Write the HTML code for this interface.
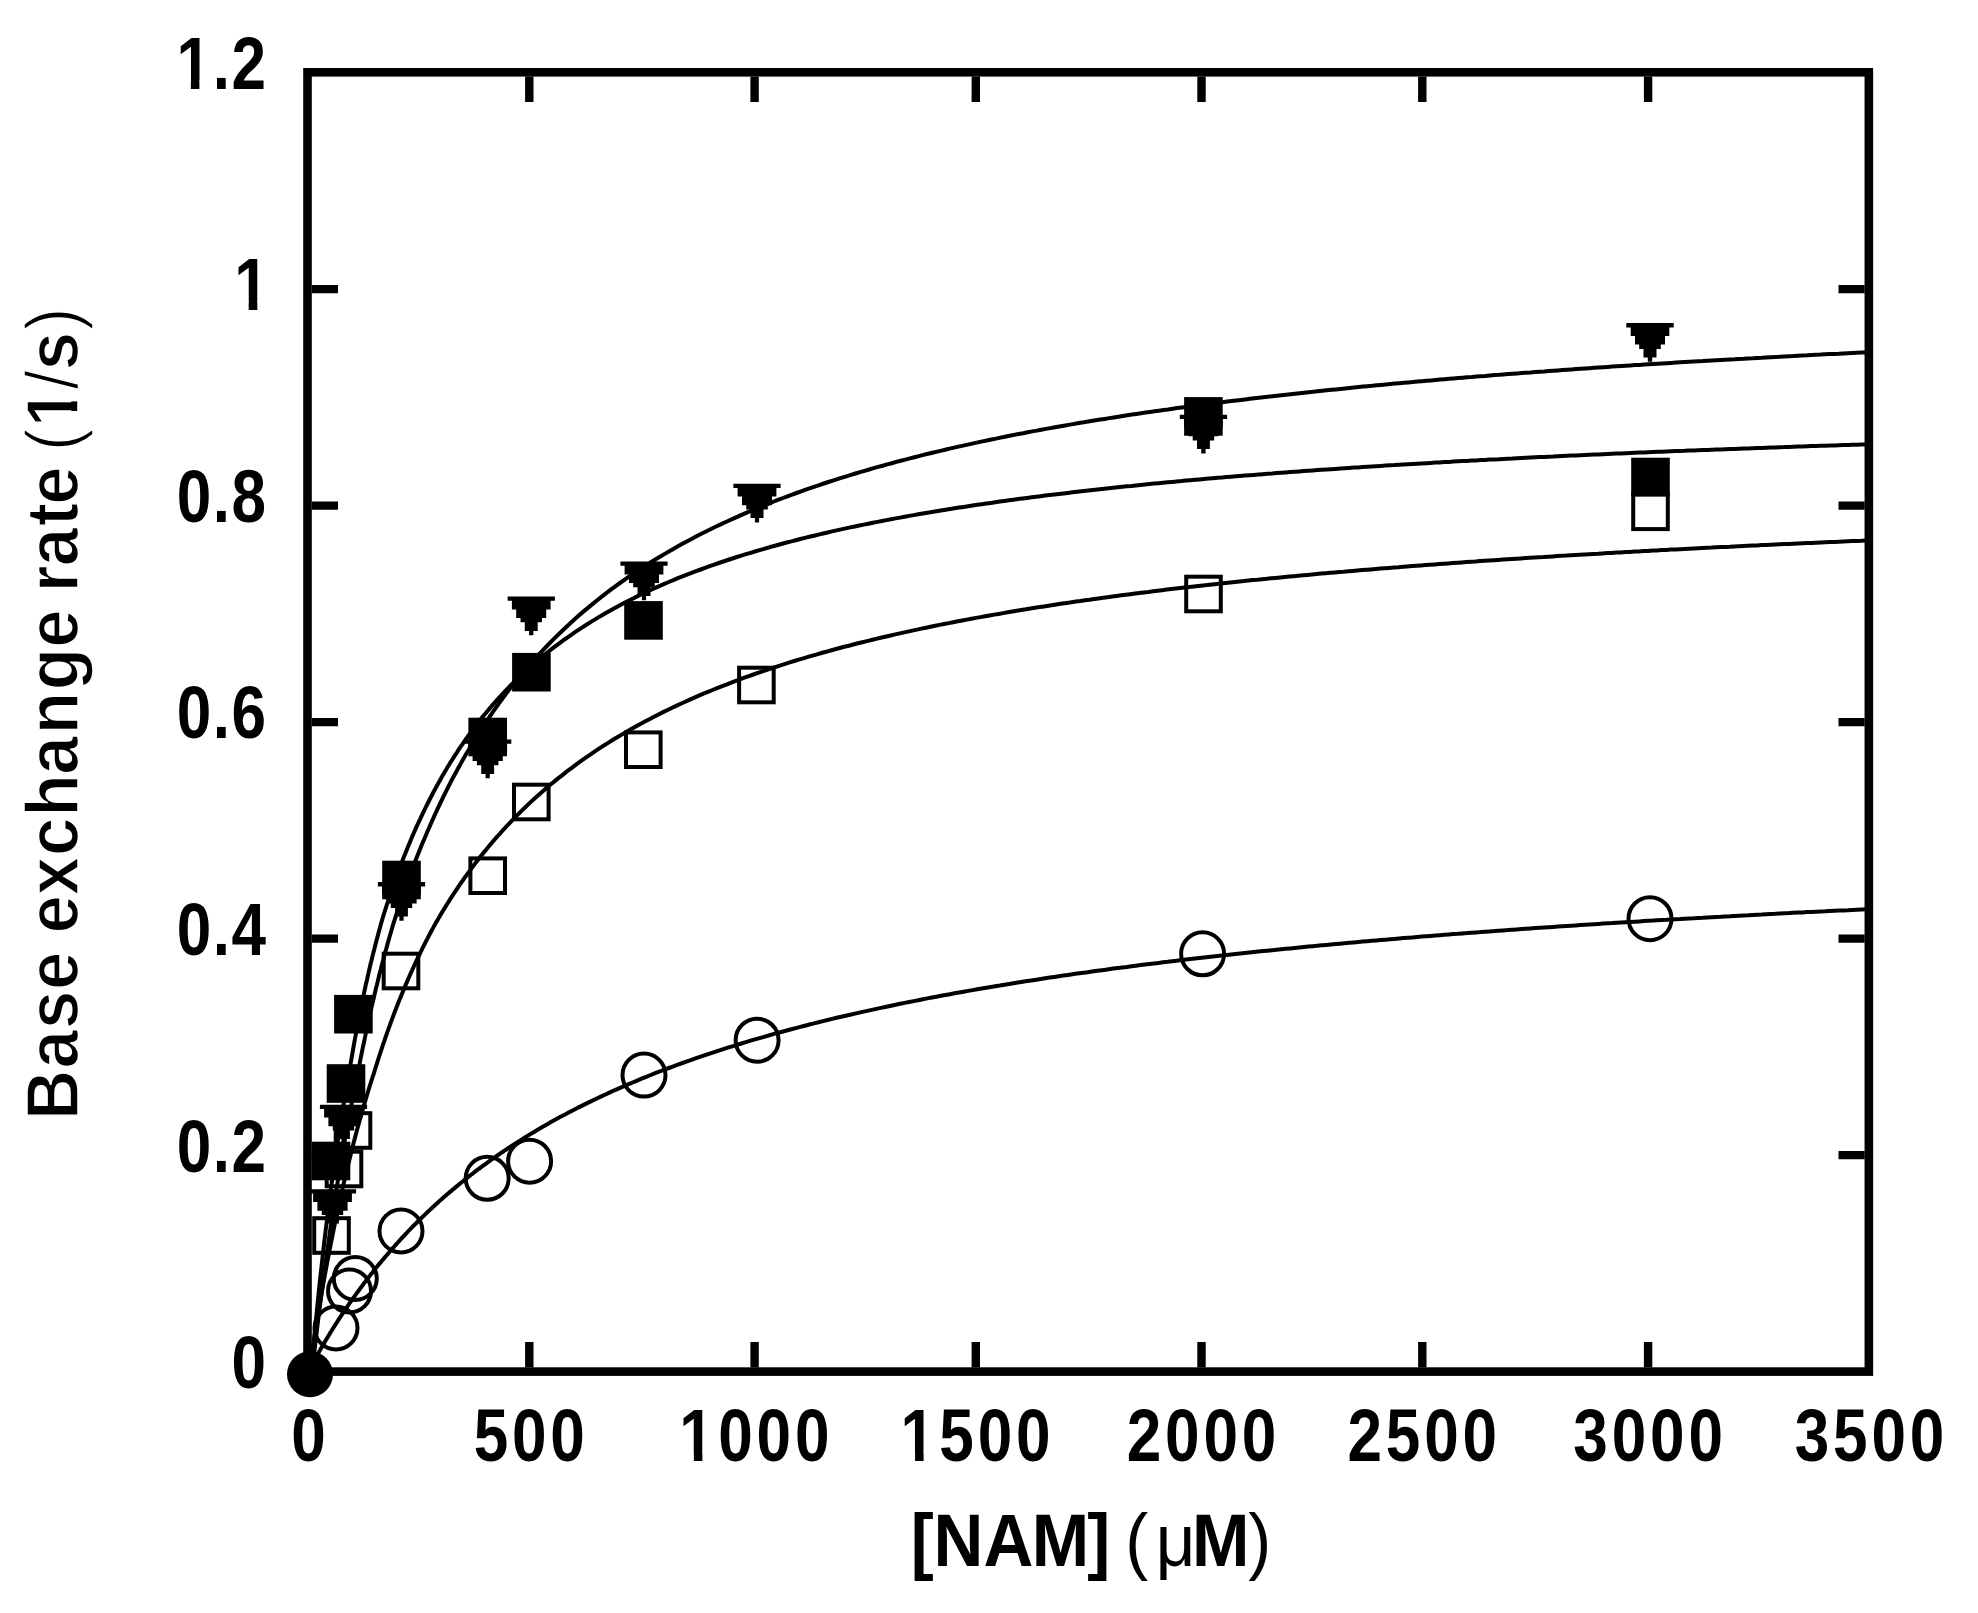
<!DOCTYPE html><html><head><meta charset="utf-8"><style>html,body{margin:0;padding:0;background:#fff;}svg{display:block}</style></head><body>
<svg width="1978" height="1613" viewBox="0 0 1978 1613">
<rect width="1978" height="1613" fill="#fff"/>
<rect x="307.5" y="72.3" width="1561.35" height="1299.3" fill="none" stroke="#000" stroke-width="8.6"/>
<path d="M311.8,1155.1H338M1838.5,1155.1H1864.7M311.8,938.6H338M1838.5,938.6H1864.7M311.8,722.1H338M1838.5,722.1H1864.7M311.8,505.6H338M1838.5,505.6H1864.7M311.8,289.1H338M1838.5,289.1H1864.7M529.3,1367.4V1342M529.3,76.6V102M754.6,1367.4V1342M754.6,76.6V102M975.8,1367.4V1342M975.8,76.6V102M1201.5,1367.4V1342M1201.5,76.6V102M1422.3,1367.4V1342M1422.3,76.6V102M1648.1,1367.4V1342M1648.1,76.6V102" stroke="#000" stroke-width="8.4" fill="none"/>
<g fill="none" stroke="#000" stroke-width="4">
<path d="M312.1,1371.7 L312.6,1367.2 L313.1,1362.8 L313.6,1358.4 L314.1,1354.0 L314.6,1349.7 L315.1,1345.4 L315.6,1341.2 L316.1,1336.9 L316.6,1332.7 L317.1,1328.6 L317.6,1324.5 L318.1,1320.4 L318.6,1316.3 L319.1,1312.3 L319.6,1308.3 L320.1,1304.3 L320.6,1300.4 L321.1,1296.4 L321.6,1292.6 L322.1,1288.7 L322.6,1284.9 L323.1,1281.1 L323.6,1277.3 L324.1,1273.6 L324.6,1269.9 L325.1,1266.2 L325.6,1262.6 L326.1,1258.9 L326.6,1255.3 L327.1,1251.7 L327.6,1248.2 L328.1,1244.7 L328.6,1241.2 L329.1,1237.7 L329.6,1234.3 L330.1,1230.8 L330.6,1227.4 L331.1,1224.1 L331.6,1220.7 L332.1,1217.4 L332.6,1214.1 L333.1,1210.8 L333.6,1207.5 L334.1,1204.3 L334.6,1201.1 L335.1,1197.9 L335.6,1194.7 L336.1,1191.6 L336.6,1188.4 L337.1,1185.3 L337.6,1182.2 L338.1,1179.2 L338.6,1176.1 L339.1,1173.1 L339.6,1170.1 L340.1,1167.1 L340.6,1164.2 L341.1,1161.2 L341.6,1158.3 L342.1,1155.4 L342.6,1152.5 L343.1,1149.6 L343.6,1146.8 L344.1,1144.0 L344.6,1141.1 L345.1,1138.3 L345.6,1135.6 L346.1,1132.8 L346.6,1130.1 L347.1,1127.4 L347.6,1124.6 L348.1,1122.0 L348.6,1119.3 L349.1,1116.6 L349.6,1114.0 L350.1,1111.4 L350.6,1108.8 L351.1,1106.2 L351.6,1103.6 L352.1,1101.0 L352.6,1098.5 L353.6,1093.4 L354.6,1088.4 L355.6,1083.5 L356.6,1078.6 L357.6,1073.8 L358.6,1069.1 L359.5,1064.4 L360.4,1059.7 L361.3,1055.1 L362.2,1050.6 L363.1,1046.1 L364.1,1041.7 L365.0,1037.3 L365.9,1032.9 L366.8,1028.7 L367.7,1024.4 L368.6,1020.2 L369.6,1016.1 L370.5,1012.0 L371.4,1007.9 L372.3,1003.9 L373.3,1000.0 L374.2,996.0 L375.1,992.1 L376.0,988.3 L377.0,984.5 L377.9,980.7 L378.8,977.0 L379.7,973.3 L380.7,969.7 L381.6,966.1 L382.5,962.5 L383.5,959.0 L384.4,955.5 L385.3,952.0 L386.3,948.6 L387.2,945.2 L388.1,941.9 L389.1,938.5 L390.0,935.3 L391.0,932.0 L391.9,928.8 L392.8,925.6 L393.8,922.4 L394.8,919.3 L395.8,916.2 L396.8,913.1 L397.8,910.1 L398.8,907.0 L399.8,904.0 L400.8,901.1 L401.8,898.2 L402.8,895.2 L403.8,892.4 L404.8,889.5 L405.8,886.7 L406.8,883.9 L407.8,881.1 L408.8,878.4 L409.8,875.6 L410.8,872.9 L411.8,870.3 L412.8,867.6 L413.8,865.0 L414.8,862.4 L415.8,859.8 L416.8,857.2 L417.8,854.7 L418.8,852.2 L419.8,849.7 L420.8,847.2 L421.8,844.8 L422.8,842.3 L423.9,839.9 L424.9,837.5 L425.9,835.2 L426.9,832.8 L427.9,830.5 L428.9,828.2 L429.9,825.9 L430.9,823.6 L431.9,821.3 L432.9,819.1 L433.9,816.9 L434.9,814.7 L435.9,812.5 L436.9,810.3 L437.9,808.2 L438.9,806.1 L439.9,803.9 L440.9,801.8 L441.9,799.8 L442.9,797.7 L443.9,795.6 L444.9,793.6 L445.9,791.6 L446.9,789.6 L447.9,787.6 L448.9,785.6 L449.9,783.7 L450.9,781.7 L451.9,779.8 L452.9,777.9 L453.9,776.0 L455.0,774.1 L456.0,772.2 L457.0,770.4 L458.0,768.5 L459.0,766.7 L460.0,764.9 L461.0,763.1 L462.0,761.3 L463.0,759.5 L464.0,757.8 L465.0,756.0 L466.0,754.3 L467.0,752.6 L468.0,750.9 L469.0,749.2 L470.0,747.5 L471.0,745.8 L472.0,744.1 L473.0,742.5 L474.0,740.8 L475.0,739.2 L476.0,737.6 L477.0,736.0 L478.0,734.4 L479.0,732.8 L480.0,731.2 L481.0,729.6 L482.0,728.1 L483.0,726.6 L484.0,725.0 L485.0,723.5 L486.0,722.0 L487.1,720.5 L488.1,719.0 L489.1,717.5 L490.1,716.0 L491.1,714.6 L492.1,713.1 L493.1,711.7 L494.1,710.2 L495.1,708.8 L496.1,707.4 L497.1,706.0 L498.1,704.6 L499.1,703.2 L500.1,701.8 L501.1,700.5 L502.1,699.1 L503.1,697.7 L504.1,696.4 L505.1,695.1 L506.1,693.7 L507.1,692.4 L508.1,691.1 L509.1,689.8 L511.1,687.2 L515.7,681.5 L520.2,675.9 L524.7,670.5 L529.2,665.3 L533.8,660.1 L538.3,655.1 L542.8,650.3 L547.4,645.5 L551.9,640.9 L556.4,636.4 L561.0,632.0 L565.5,627.7 L570.0,623.5 L574.6,619.3 L579.1,615.3 L583.6,611.4 L588.2,607.6 L592.7,603.9 L597.2,600.2 L601.7,596.6 L606.3,593.1 L610.8,589.7 L615.3,586.3 L619.9,583.0 L624.4,579.8 L628.9,576.7 L633.5,573.6 L638.0,570.6 L642.5,567.6 L647.1,564.7 L651.6,561.8 L656.1,559.0 L660.7,556.3 L665.2,553.6 L669.7,551.0 L674.2,548.4 L678.8,545.8 L683.3,543.3 L687.8,540.9 L692.4,538.5 L696.9,536.1 L701.4,533.8 L706.0,531.5 L710.5,529.3 L715.0,527.0 L719.6,524.9 L724.1,522.8 L728.6,520.7 L733.2,518.6 L737.7,516.6 L742.2,514.6 L746.8,512.6 L751.3,510.7 L755.8,508.8 L760.3,506.9 L764.9,505.1 L769.4,503.3 L773.9,501.5 L778.5,499.7 L783.0,498.0 L787.5,496.3 L792.1,494.6 L796.6,493.0 L801.1,491.3 L805.7,489.7 L810.2,488.2 L814.7,486.6 L819.3,485.1 L823.8,483.5 L828.3,482.0 L832.8,480.6 L837.4,479.1 L841.9,477.7 L846.4,476.3 L851.0,474.9 L855.5,473.5 L860.0,472.2 L864.6,470.8 L869.1,469.5 L873.6,468.2 L878.2,466.9 L882.7,465.7 L887.2,464.4 L891.8,463.2 L896.3,461.9 L900.8,460.7 L905.3,459.6 L909.9,458.4 L914.4,457.2 L918.9,456.1 L923.5,454.9 L928.0,453.8 L932.5,452.7 L937.1,451.6 L941.6,450.6 L946.1,449.5 L950.7,448.4 L955.2,447.4 L959.7,446.4 L964.3,445.4 L968.8,444.4 L973.3,443.4 L977.9,442.4 L982.4,441.4 L986.9,440.5 L991.4,439.5 L996.0,438.6 L1000.5,437.6 L1005.0,436.7 L1009.6,435.8 L1014.1,434.9 L1018.6,434.0 L1023.2,433.2 L1027.7,432.3 L1032.2,431.4 L1036.8,430.6 L1041.3,429.7 L1045.8,428.9 L1050.4,428.1 L1054.9,427.3 L1059.4,426.5 L1063.9,425.7 L1068.5,424.9 L1073.0,424.1 L1077.5,423.3 L1082.1,422.6 L1086.6,421.8 L1091.1,421.1 L1095.7,420.3 L1100.2,419.6 L1104.7,418.9 L1109.3,418.1 L1113.8,417.4 L1118.3,416.7 L1122.9,416.0 L1127.4,415.3 L1131.9,414.6 L1136.4,414.0 L1141.0,413.3 L1145.5,412.6 L1150.0,412.0 L1154.6,411.3 L1159.1,410.7 L1163.6,410.0 L1168.2,409.4 L1172.7,408.7 L1177.2,408.1 L1181.8,407.5 L1186.3,406.9 L1190.8,406.3 L1195.4,405.7 L1199.9,405.1 L1204.4,404.5 L1209.0,403.9 L1213.5,403.3 L1218.0,402.7 L1222.5,402.2 L1227.1,401.6 L1231.6,401.0 L1236.1,400.5 L1240.7,399.9 L1245.2,399.4 L1249.7,398.8 L1254.3,398.3 L1258.8,397.8 L1263.3,397.2 L1267.9,396.7 L1272.4,396.2 L1276.9,395.7 L1281.5,395.2 L1286.0,394.7 L1290.5,394.2 L1295.0,393.7 L1299.6,393.2 L1304.1,392.7 L1308.6,392.2 L1313.2,391.7 L1317.7,391.2 L1322.2,390.8 L1326.8,390.3 L1331.3,389.8 L1335.8,389.4 L1340.4,388.9 L1344.9,388.4 L1349.4,388.0 L1354.0,387.5 L1358.5,387.1 L1363.0,386.6 L1367.5,386.2 L1372.1,385.8 L1376.6,385.3 L1381.1,384.9 L1385.7,384.5 L1390.2,384.1 L1394.7,383.6 L1399.3,383.2 L1403.8,382.8 L1408.3,382.4 L1412.9,382.0 L1417.4,381.6 L1421.9,381.2 L1426.5,380.8 L1431.0,380.4 L1435.5,380.0 L1440.1,379.6 L1444.6,379.2 L1449.1,378.8 L1453.6,378.5 L1458.2,378.1 L1462.7,377.7 L1467.2,377.3 L1471.8,377.0 L1476.3,376.6 L1480.8,376.2 L1485.4,375.9 L1489.9,375.5 L1494.4,375.1 L1499.0,374.8 L1503.5,374.4 L1508.0,374.1 L1512.6,373.7 L1517.1,373.4 L1521.6,373.0 L1526.1,372.7 L1530.7,372.4 L1535.2,372.0 L1539.7,371.7 L1544.3,371.4 L1548.8,371.0 L1553.3,370.7 L1557.9,370.4 L1562.4,370.1 L1566.9,369.7 L1571.5,369.4 L1576.0,369.1 L1580.5,368.8 L1585.1,368.5 L1589.6,368.2 L1594.1,367.8 L1598.6,367.5 L1603.2,367.2 L1607.7,366.9 L1612.2,366.6 L1616.8,366.3 L1621.3,366.0 L1625.8,365.7 L1630.4,365.4 L1634.9,365.1 L1639.4,364.9 L1644.0,364.6 L1648.5,364.3 L1653.0,364.0 L1657.6,363.7 L1662.1,363.4 L1666.6,363.2 L1671.2,362.9 L1675.7,362.6 L1680.2,362.3 L1684.7,362.1 L1689.3,361.8 L1693.8,361.5 L1698.3,361.2 L1702.9,361.0 L1707.4,360.7 L1711.9,360.5 L1716.5,360.2 L1721.0,359.9 L1725.5,359.7 L1730.1,359.4 L1734.6,359.2 L1739.1,358.9 L1743.7,358.7 L1748.2,358.4 L1752.7,358.2 L1757.2,357.9 L1761.8,357.7 L1766.3,357.4 L1770.8,357.2 L1775.4,356.9 L1779.9,356.7 L1784.4,356.4 L1789.0,356.2 L1793.5,356.0 L1798.0,355.7 L1802.6,355.5 L1807.1,355.3 L1811.6,355.0 L1816.2,354.8 L1820.7,354.6 L1825.2,354.3 L1829.7,354.1 L1834.3,353.9 L1838.8,353.7 L1843.3,353.4 L1847.9,353.2 L1852.4,353.0 L1856.9,352.8 L1861.5,352.6 L1866.0,352.4"/>
<path d="M311.1,1371.7 L311.6,1366.1 L312.1,1360.5 L312.6,1355.0 L313.1,1349.5 L313.6,1344.2 L314.1,1338.8 L314.6,1333.6 L315.1,1328.4 L315.6,1323.2 L316.1,1318.1 L316.6,1313.1 L317.1,1308.1 L317.6,1303.2 L318.1,1298.3 L318.6,1293.5 L319.1,1288.7 L319.6,1284.0 L320.1,1279.3 L320.6,1274.7 L321.1,1270.1 L321.6,1265.6 L322.1,1261.1 L322.6,1256.6 L323.1,1252.3 L323.6,1247.9 L324.1,1243.6 L324.6,1239.3 L325.1,1235.1 L325.6,1231.0 L326.1,1226.8 L326.6,1222.7 L327.1,1218.7 L327.6,1214.7 L328.1,1210.7 L328.6,1206.7 L329.1,1202.8 L329.6,1199.0 L330.1,1195.1 L330.6,1191.4 L331.1,1187.6 L331.6,1183.9 L332.1,1180.2 L332.6,1176.6 L333.1,1172.9 L333.6,1169.4 L334.1,1165.8 L334.6,1162.3 L335.1,1158.8 L335.6,1155.3 L336.1,1151.9 L336.6,1148.5 L337.1,1145.2 L337.6,1141.8 L338.1,1138.5 L338.6,1135.2 L339.1,1132.0 L339.6,1128.8 L340.1,1125.6 L340.6,1122.4 L341.1,1119.3 L341.6,1116.2 L342.1,1113.1 L342.6,1110.0 L343.1,1107.0 L343.6,1104.0 L344.1,1101.0 L344.6,1098.1 L345.1,1095.2 L345.6,1092.2 L346.1,1089.4 L346.6,1086.5 L347.1,1083.7 L347.6,1080.9 L348.1,1078.1 L348.6,1075.3 L349.1,1072.6 L349.6,1069.8 L350.0,1067.1 L350.5,1064.5 L350.9,1061.8 L351.4,1059.2 L352.3,1053.9 L353.2,1048.8 L354.1,1043.7 L355.0,1038.7 L355.9,1033.8 L356.8,1029.0 L357.7,1024.2 L358.6,1019.5 L359.5,1014.9 L360.4,1010.3 L361.3,1005.8 L362.3,1001.4 L363.2,997.1 L364.1,992.8 L365.0,988.5 L365.9,984.3 L366.9,980.2 L367.8,976.1 L368.7,972.1 L369.6,968.2 L370.5,964.3 L371.5,960.4 L372.4,956.6 L373.3,952.9 L374.3,949.2 L375.2,945.5 L376.1,941.9 L377.1,938.4 L378.0,934.9 L378.9,931.4 L379.9,928.0 L380.8,924.6 L381.7,921.3 L382.7,918.0 L383.7,914.7 L384.7,911.5 L385.7,908.3 L386.7,905.2 L387.8,902.1 L388.8,899.1 L389.8,896.0 L390.8,893.0 L391.8,890.1 L392.8,887.2 L393.8,884.3 L394.8,881.4 L395.8,878.6 L396.8,875.8 L397.8,873.1 L398.8,870.4 L399.8,867.7 L400.8,865.0 L401.8,862.4 L402.8,859.8 L403.8,857.2 L404.8,854.7 L405.8,852.2 L406.8,849.7 L407.8,847.2 L408.8,844.8 L409.8,842.4 L410.8,840.0 L411.8,837.6 L412.8,835.3 L413.8,833.0 L414.8,830.7 L415.8,828.4 L416.8,826.2 L417.8,824.0 L418.8,821.8 L419.9,819.6 L420.9,817.4 L421.9,815.3 L422.9,813.2 L423.9,811.1 L424.9,809.1 L425.9,807.0 L426.9,805.0 L427.9,803.0 L428.9,801.0 L429.9,799.0 L430.9,797.1 L431.9,795.2 L432.9,793.2 L433.9,791.3 L434.9,789.5 L435.9,787.6 L436.9,785.8 L437.9,784.0 L438.9,782.1 L439.9,780.4 L440.9,778.6 L441.9,776.8 L442.9,775.1 L443.9,773.4 L444.9,771.6 L445.9,770.0 L446.9,768.3 L447.9,766.6 L448.9,765.0 L449.9,763.3 L450.9,761.7 L452.0,760.1 L453.0,758.5 L454.0,756.9 L455.0,755.4 L456.0,753.8 L457.0,752.3 L458.0,750.7 L459.0,749.2 L460.0,747.7 L461.0,746.2 L462.0,744.8 L463.0,743.3 L464.0,741.8 L465.0,740.4 L466.0,739.0 L467.0,737.6 L468.0,736.2 L469.0,734.8 L470.0,733.4 L471.0,732.0 L472.0,730.7 L473.0,729.3 L474.0,728.0 L475.0,726.6 L476.0,725.3 L477.0,724.0 L478.0,722.7 L479.0,721.4 L480.0,720.2 L481.0,718.9 L482.0,717.6 L483.0,716.4 L484.1,715.2 L485.1,713.9 L486.1,712.7 L487.1,711.5 L488.1,710.3 L489.1,709.1 L490.1,707.9 L491.1,706.8 L492.1,705.6 L493.1,704.4 L494.1,703.3 L495.1,702.2 L496.1,701.0 L497.1,699.9 L498.1,698.8 L499.1,697.7 L500.1,696.6 L501.1,695.5 L502.1,694.4 L503.1,693.3 L504.1,692.3 L505.1,691.2 L506.1,690.2 L507.1,689.1 L508.1,688.1 L510.1,686.0 L514.7,681.5 L519.2,677.1 L523.7,672.8 L528.3,668.7 L532.8,664.7 L537.3,660.8 L541.9,657.0 L546.4,653.3 L550.9,649.7 L555.5,646.2 L560.0,642.8 L564.5,639.5 L569.1,636.3 L573.6,633.1 L578.1,630.1 L582.7,627.1 L587.2,624.2 L591.8,621.4 L596.3,618.6 L600.8,615.9 L605.4,613.3 L609.9,610.7 L614.4,608.2 L619.0,605.7 L623.5,603.3 L628.0,601.0 L632.6,598.7 L637.1,596.4 L641.6,594.2 L646.2,592.1 L650.7,590.0 L655.2,587.9 L659.8,585.9 L664.3,583.9 L668.8,582.0 L673.4,580.1 L677.9,578.2 L682.4,576.4 L687.0,574.6 L691.5,572.9 L696.1,571.1 L700.6,569.5 L705.1,567.8 L709.7,566.2 L714.2,564.6 L718.7,563.0 L723.3,561.5 L727.8,560.0 L732.3,558.5 L736.9,557.0 L741.4,555.6 L745.9,554.2 L750.5,552.8 L755.0,551.5 L759.5,550.1 L764.1,548.8 L768.6,547.5 L773.1,546.2 L777.7,545.0 L782.2,543.8 L786.7,542.5 L791.3,541.4 L795.8,540.2 L800.3,539.0 L804.9,537.9 L809.4,536.8 L814.0,535.7 L818.5,534.6 L823.0,533.5 L827.6,532.5 L832.1,531.4 L836.6,530.4 L841.2,529.4 L845.7,528.4 L850.2,527.4 L854.8,526.5 L859.3,525.5 L863.8,524.6 L868.4,523.7 L872.9,522.8 L877.4,521.9 L882.0,521.0 L886.5,520.1 L891.0,519.2 L895.6,518.4 L900.1,517.6 L904.6,516.7 L909.2,515.9 L913.7,515.1 L918.3,514.3 L922.8,513.5 L927.3,512.8 L931.9,512.0 L936.4,511.2 L940.9,510.5 L945.5,509.7 L950.0,509.0 L954.5,508.3 L959.1,507.6 L963.6,506.9 L968.1,506.2 L972.7,505.5 L977.2,504.8 L981.7,504.2 L986.3,503.5 L990.8,502.9 L995.3,502.2 L999.9,501.6 L1004.4,501.0 L1008.9,500.3 L1013.5,499.7 L1018.0,499.1 L1022.5,498.5 L1027.1,497.9 L1031.6,497.3 L1036.2,496.7 L1040.7,496.2 L1045.2,495.6 L1049.8,495.0 L1054.3,494.5 L1058.8,493.9 L1063.4,493.4 L1067.9,492.9 L1072.4,492.3 L1077.0,491.8 L1081.5,491.3 L1086.0,490.8 L1090.6,490.2 L1095.1,489.7 L1099.6,489.2 L1104.2,488.7 L1108.7,488.3 L1113.2,487.8 L1117.8,487.3 L1122.3,486.8 L1126.8,486.3 L1131.4,485.9 L1135.9,485.4 L1140.4,485.0 L1145.0,484.5 L1149.5,484.1 L1154.1,483.6 L1158.6,483.2 L1163.1,482.8 L1167.7,482.3 L1172.2,481.9 L1176.7,481.5 L1181.3,481.1 L1185.8,480.6 L1190.3,480.2 L1194.9,479.8 L1199.4,479.4 L1203.9,479.0 L1208.5,478.6 L1213.0,478.2 L1217.5,477.8 L1222.1,477.5 L1226.6,477.1 L1231.1,476.7 L1235.7,476.3 L1240.2,476.0 L1244.7,475.6 L1249.3,475.2 L1253.8,474.9 L1258.4,474.5 L1262.9,474.2 L1267.4,473.8 L1272.0,473.5 L1276.5,473.1 L1281.0,472.8 L1285.6,472.4 L1290.1,472.1 L1294.6,471.8 L1299.2,471.4 L1303.7,471.1 L1308.2,470.8 L1312.8,470.4 L1317.3,470.1 L1321.8,469.8 L1326.4,469.5 L1330.9,469.2 L1335.4,468.9 L1340.0,468.6 L1344.5,468.3 L1349.0,467.9 L1353.6,467.6 L1358.1,467.4 L1362.6,467.1 L1367.2,466.8 L1371.7,466.5 L1376.3,466.2 L1380.8,465.9 L1385.3,465.6 L1389.9,465.3 L1394.4,465.1 L1398.9,464.8 L1403.5,464.5 L1408.0,464.2 L1412.5,464.0 L1417.1,463.7 L1421.6,463.4 L1426.1,463.2 L1430.7,462.9 L1435.2,462.6 L1439.7,462.4 L1444.3,462.1 L1448.8,461.9 L1453.3,461.6 L1457.9,461.3 L1462.4,461.1 L1466.9,460.9 L1471.5,460.6 L1476.0,460.4 L1480.6,460.1 L1485.1,459.9 L1489.6,459.6 L1494.2,459.4 L1498.7,459.2 L1503.2,458.9 L1507.8,458.7 L1512.3,458.5 L1516.8,458.2 L1521.4,458.0 L1525.9,457.8 L1530.4,457.6 L1535.0,457.3 L1539.5,457.1 L1544.0,456.9 L1548.6,456.7 L1553.1,456.5 L1557.6,456.2 L1562.2,456.0 L1566.7,455.8 L1571.2,455.6 L1575.8,455.4 L1580.3,455.2 L1584.8,455.0 L1589.4,454.8 L1593.9,454.6 L1598.5,454.4 L1603.0,454.2 L1607.5,454.0 L1612.1,453.8 L1616.6,453.6 L1621.1,453.4 L1625.7,453.2 L1630.2,453.0 L1634.7,452.8 L1639.3,452.6 L1643.8,452.4 L1648.3,452.2 L1652.9,452.0 L1657.4,451.8 L1661.9,451.7 L1666.5,451.5 L1671.0,451.3 L1675.5,451.1 L1680.1,450.9 L1684.6,450.8 L1689.1,450.6 L1693.7,450.4 L1698.2,450.2 L1702.8,450.0 L1707.3,449.9 L1711.8,449.7 L1716.4,449.5 L1720.9,449.4 L1725.4,449.2 L1730.0,449.0 L1734.5,448.9 L1739.0,448.7 L1743.6,448.5 L1748.1,448.4 L1752.6,448.2 L1757.2,448.0 L1761.7,447.9 L1766.2,447.7 L1770.8,447.5 L1775.3,447.4 L1779.8,447.2 L1784.4,447.1 L1788.9,446.9 L1793.4,446.8 L1798.0,446.6 L1802.5,446.4 L1807.0,446.3 L1811.6,446.1 L1816.1,446.0 L1820.7,445.8 L1825.2,445.7 L1829.7,445.5 L1834.3,445.4 L1838.8,445.2 L1843.3,445.1 L1847.9,445.0 L1852.4,444.8 L1856.9,444.7 L1861.5,444.5 L1866.0,444.4"/>
<path d="M309.2,1371.7 L309.7,1368.3 L310.2,1364.9 L310.7,1361.5 L311.2,1358.1 L311.7,1354.8 L312.2,1351.5 L312.7,1348.2 L313.2,1344.9 L313.7,1341.7 L314.2,1338.5 L314.7,1335.3 L315.2,1332.1 L315.7,1329.0 L316.2,1325.9 L316.7,1322.8 L317.2,1319.7 L317.7,1316.6 L318.2,1313.6 L318.7,1310.6 L319.2,1307.6 L319.7,1304.6 L320.2,1301.7 L320.7,1298.8 L321.2,1295.9 L321.7,1293.0 L322.2,1290.1 L322.7,1287.3 L323.2,1284.4 L323.7,1281.6 L324.2,1278.9 L324.7,1276.1 L325.2,1273.3 L325.7,1270.6 L326.2,1267.9 L326.7,1265.2 L327.2,1262.5 L327.7,1259.9 L328.2,1257.2 L328.7,1254.6 L329.2,1252.0 L329.7,1249.4 L330.2,1246.9 L330.7,1244.3 L331.2,1241.8 L331.7,1239.3 L332.2,1236.8 L332.7,1234.3 L333.2,1231.8 L333.7,1229.3 L334.2,1226.9 L334.7,1224.5 L335.2,1222.1 L335.7,1219.7 L336.2,1217.3 L336.7,1214.9 L337.2,1212.6 L337.7,1210.3 L338.2,1208.0 L338.7,1205.6 L339.2,1203.4 L339.7,1201.1 L340.2,1198.8 L340.7,1196.6 L341.2,1194.3 L341.7,1192.1 L342.2,1189.9 L342.7,1187.7 L343.2,1185.6 L343.7,1183.4 L344.2,1181.2 L344.7,1179.1 L345.2,1177.0 L345.7,1174.9 L346.2,1172.8 L346.7,1170.7 L347.2,1168.6 L347.7,1166.5 L348.2,1164.5 L348.7,1162.4 L349.2,1160.4 L349.7,1158.4 L350.7,1154.4 L351.7,1150.4 L352.7,1146.5 L353.7,1142.6 L354.7,1138.8 L355.7,1135.0 L356.7,1131.3 L357.7,1127.6 L358.7,1123.9 L359.7,1120.3 L360.7,1116.7 L361.7,1113.2 L362.7,1109.7 L363.7,1106.2 L364.7,1102.8 L365.7,1099.4 L366.7,1096.1 L367.7,1092.7 L368.7,1089.5 L369.7,1086.2 L370.7,1083.0 L371.7,1079.8 L372.7,1076.7 L373.8,1073.6 L374.7,1070.5 L375.7,1067.4 L376.6,1064.4 L377.6,1061.4 L378.5,1058.5 L379.4,1055.5 L380.4,1052.6 L381.3,1049.8 L382.3,1046.9 L383.2,1044.1 L384.2,1041.3 L385.1,1038.5 L386.1,1035.8 L387.0,1033.1 L388.0,1030.4 L388.9,1027.8 L389.9,1025.1 L390.8,1022.5 L391.8,1019.9 L392.7,1017.4 L393.7,1014.8 L394.6,1012.3 L395.6,1009.8 L396.5,1007.4 L397.5,1004.9 L398.4,1002.5 L399.4,1000.1 L400.4,997.7 L401.3,995.4 L402.3,993.0 L403.2,990.7 L404.2,988.4 L405.1,986.2 L406.1,983.9 L407.1,981.7 L408.0,979.4 L409.0,977.3 L409.9,975.1 L410.9,972.9 L411.9,970.8 L412.8,968.7 L413.8,966.5 L414.7,964.5 L415.7,962.4 L416.7,960.3 L417.6,958.3 L418.6,956.3 L419.6,954.3 L420.5,952.3 L421.5,950.3 L422.4,948.4 L423.4,946.4 L424.4,944.5 L425.3,942.6 L426.3,940.7 L427.3,938.9 L428.2,937.0 L429.2,935.1 L430.2,933.3 L431.1,931.5 L432.1,929.7 L433.1,927.9 L434.0,926.1 L435.0,924.4 L436.0,922.6 L437.0,920.9 L438.0,919.2 L439.0,917.5 L440.0,915.8 L441.0,914.1 L442.0,912.4 L443.0,910.8 L444.0,909.1 L445.0,907.5 L446.0,905.9 L447.0,904.3 L448.0,902.7 L449.0,901.1 L450.0,899.5 L451.0,897.9 L452.0,896.4 L453.0,894.9 L454.0,893.3 L455.0,891.8 L456.0,890.3 L457.0,888.8 L458.0,887.3 L459.0,885.9 L460.0,884.4 L461.0,882.9 L462.0,881.5 L463.0,880.1 L464.0,878.6 L465.0,877.2 L466.1,875.8 L467.1,874.4 L468.1,873.0 L469.1,871.7 L470.1,870.3 L471.1,868.9 L472.1,867.6 L473.1,866.3 L474.1,864.9 L475.1,863.6 L476.1,862.3 L477.1,861.0 L478.1,859.7 L479.1,858.4 L480.1,857.1 L481.1,855.9 L482.1,854.6 L483.1,853.4 L484.1,852.1 L485.1,850.9 L486.1,849.7 L487.1,848.4 L488.1,847.2 L489.1,846.0 L490.1,844.8 L491.1,843.6 L492.1,842.5 L493.1,841.3 L494.1,840.1 L495.1,839.0 L496.1,837.8 L497.1,836.7 L498.2,835.5 L499.2,834.4 L500.2,833.3 L501.2,832.2 L502.2,831.0 L503.2,829.9 L504.2,828.8 L505.2,827.8 L506.2,826.7 L508.2,824.5 L512.7,819.8 L517.3,815.1 L521.8,810.6 L526.3,806.2 L530.9,801.9 L535.4,797.8 L540.0,793.7 L544.5,789.7 L549.0,785.8 L553.6,782.1 L558.1,778.4 L562.7,774.8 L567.2,771.2 L571.8,767.8 L576.3,764.4 L580.8,761.1 L585.4,757.9 L589.9,754.8 L594.5,751.7 L599.0,748.7 L603.5,745.7 L608.1,742.9 L612.6,740.0 L617.2,737.3 L621.7,734.6 L626.2,731.9 L630.8,729.3 L635.3,726.7 L639.9,724.2 L644.4,721.8 L649.0,719.4 L653.5,717.0 L658.0,714.7 L662.6,712.4 L667.1,710.2 L671.7,708.0 L676.2,705.9 L680.7,703.8 L685.3,701.7 L689.8,699.6 L694.4,697.6 L698.9,695.7 L703.4,693.7 L708.0,691.8 L712.5,690.0 L717.1,688.1 L721.6,686.3 L726.2,684.6 L730.7,682.8 L735.2,681.1 L739.8,679.4 L744.3,677.7 L748.9,676.1 L753.4,674.5 L757.9,672.9 L762.5,671.3 L767.0,669.8 L771.6,668.3 L776.1,666.8 L780.6,665.3 L785.2,663.9 L789.7,662.4 L794.3,661.0 L798.8,659.7 L803.4,658.3 L807.9,656.9 L812.4,655.6 L817.0,654.3 L821.5,653.0 L826.1,651.8 L830.6,650.5 L835.1,649.3 L839.7,648.0 L844.2,646.8 L848.8,645.7 L853.3,644.5 L857.8,643.3 L862.4,642.2 L866.9,641.1 L871.5,640.0 L876.0,638.9 L880.6,637.8 L885.1,636.7 L889.6,635.7 L894.2,634.6 L898.7,633.6 L903.3,632.6 L907.8,631.6 L912.3,630.6 L916.9,629.6 L921.4,628.6 L926.0,627.7 L930.5,626.7 L935.1,625.8 L939.6,624.9 L944.1,624.0 L948.7,623.1 L953.2,622.2 L957.8,621.3 L962.3,620.5 L966.8,619.6 L971.4,618.7 L975.9,617.9 L980.5,617.1 L985.0,616.3 L989.5,615.5 L994.1,614.6 L998.6,613.9 L1003.2,613.1 L1007.7,612.3 L1012.3,611.5 L1016.8,610.8 L1021.3,610.0 L1025.9,609.3 L1030.4,608.5 L1035.0,607.8 L1039.5,607.1 L1044.0,606.4 L1048.6,605.7 L1053.1,605.0 L1057.7,604.3 L1062.2,603.6 L1066.7,602.9 L1071.3,602.3 L1075.8,601.6 L1080.4,601.0 L1084.9,600.3 L1089.5,599.7 L1094.0,599.0 L1098.5,598.4 L1103.1,597.8 L1107.6,597.2 L1112.2,596.5 L1116.7,595.9 L1121.2,595.3 L1125.8,594.7 L1130.3,594.2 L1134.9,593.6 L1139.4,593.0 L1143.9,592.4 L1148.5,591.9 L1153.0,591.3 L1157.6,590.7 L1162.1,590.2 L1166.7,589.6 L1171.2,589.1 L1175.7,588.6 L1180.3,588.0 L1184.8,587.5 L1189.4,587.0 L1193.9,586.5 L1198.4,586.0 L1203.0,585.4 L1207.5,584.9 L1212.1,584.4 L1216.6,583.9 L1221.1,583.5 L1225.7,583.0 L1230.2,582.5 L1234.8,582.0 L1239.3,581.5 L1243.9,581.1 L1248.4,580.6 L1252.9,580.1 L1257.5,579.7 L1262.0,579.2 L1266.6,578.8 L1271.1,578.3 L1275.6,577.9 L1280.2,577.4 L1284.7,577.0 L1289.3,576.6 L1293.8,576.2 L1298.3,575.7 L1302.9,575.3 L1307.4,574.9 L1312.0,574.5 L1316.5,574.1 L1321.1,573.6 L1325.6,573.2 L1330.1,572.8 L1334.7,572.4 L1339.2,572.0 L1343.8,571.7 L1348.3,571.3 L1352.8,570.9 L1357.4,570.5 L1361.9,570.1 L1366.5,569.7 L1371.0,569.4 L1375.5,569.0 L1380.1,568.6 L1384.6,568.3 L1389.2,567.9 L1393.7,567.5 L1398.3,567.2 L1402.8,566.8 L1407.3,566.5 L1411.9,566.1 L1416.4,565.8 L1421.0,565.4 L1425.5,565.1 L1430.0,564.7 L1434.6,564.4 L1439.1,564.1 L1443.7,563.7 L1448.2,563.4 L1452.7,563.1 L1457.3,562.7 L1461.8,562.4 L1466.4,562.1 L1470.9,561.8 L1475.5,561.5 L1480.0,561.1 L1484.5,560.8 L1489.1,560.5 L1493.6,560.2 L1498.2,559.9 L1502.7,559.6 L1507.2,559.3 L1511.8,559.0 L1516.3,558.7 L1520.9,558.4 L1525.4,558.1 L1529.9,557.8 L1534.5,557.5 L1539.0,557.2 L1543.6,557.0 L1548.1,556.7 L1552.7,556.4 L1557.2,556.1 L1561.7,555.8 L1566.3,555.6 L1570.8,555.3 L1575.4,555.0 L1579.9,554.7 L1584.4,554.5 L1589.0,554.2 L1593.5,553.9 L1598.1,553.7 L1602.6,553.4 L1607.2,553.1 L1611.7,552.9 L1616.2,552.6 L1620.8,552.4 L1625.3,552.1 L1629.9,551.9 L1634.4,551.6 L1638.9,551.4 L1643.5,551.1 L1648.0,550.9 L1652.6,550.6 L1657.1,550.4 L1661.6,550.1 L1666.2,549.9 L1670.7,549.6 L1675.3,549.4 L1679.8,549.2 L1684.4,548.9 L1688.9,548.7 L1693.4,548.5 L1698.0,548.2 L1702.5,548.0 L1707.1,547.8 L1711.6,547.6 L1716.1,547.3 L1720.7,547.1 L1725.2,546.9 L1729.8,546.7 L1734.3,546.4 L1738.8,546.2 L1743.4,546.0 L1747.9,545.8 L1752.5,545.6 L1757.0,545.4 L1761.6,545.1 L1766.1,544.9 L1770.6,544.7 L1775.2,544.5 L1779.7,544.3 L1784.3,544.1 L1788.8,543.9 L1793.3,543.7 L1797.9,543.5 L1802.4,543.3 L1807.0,543.1 L1811.5,542.9 L1816.0,542.7 L1820.6,542.5 L1825.1,542.3 L1829.7,542.1 L1834.2,541.9 L1838.8,541.7 L1843.3,541.5 L1847.8,541.3 L1852.4,541.1 L1856.9,540.9 L1861.5,540.8 L1866.0,540.6"/>
<path d="M308.1,1371.7 L308.6,1370.8 L309.1,1369.8 L309.6,1368.9 L310.1,1368.0 L310.6,1367.0 L311.1,1366.1 L311.6,1365.2 L312.1,1364.3 L312.6,1363.3 L313.1,1362.4 L313.6,1361.5 L314.1,1360.6 L314.6,1359.7 L315.1,1358.8 L315.6,1357.9 L316.1,1357.0 L316.6,1356.1 L317.1,1355.2 L317.6,1354.4 L318.1,1353.5 L318.6,1352.6 L319.1,1351.7 L319.6,1350.8 L320.1,1350.0 L320.6,1349.1 L321.1,1348.2 L321.6,1347.4 L322.1,1346.5 L322.6,1345.7 L323.1,1344.8 L323.6,1344.0 L324.1,1343.1 L324.6,1342.3 L325.1,1341.4 L325.6,1340.6 L326.1,1339.7 L326.6,1338.9 L327.1,1338.1 L327.6,1337.3 L328.1,1336.4 L328.6,1335.6 L329.1,1334.8 L329.6,1334.0 L330.1,1333.1 L330.6,1332.3 L331.1,1331.5 L331.6,1330.7 L332.1,1329.9 L332.6,1329.1 L333.1,1328.3 L333.6,1327.5 L334.1,1326.7 L334.6,1325.9 L335.1,1325.1 L335.6,1324.3 L336.1,1323.6 L336.6,1322.8 L337.1,1322.0 L337.6,1321.2 L338.1,1320.4 L338.6,1319.7 L339.1,1318.9 L339.6,1318.1 L340.1,1317.4 L340.6,1316.6 L341.1,1315.8 L341.6,1315.1 L342.1,1314.3 L342.6,1313.6 L343.1,1312.8 L343.6,1312.1 L344.1,1311.3 L344.6,1310.6 L345.1,1309.8 L345.6,1309.1 L346.1,1308.3 L346.6,1307.6 L347.1,1306.9 L347.6,1306.1 L348.1,1305.4 L348.6,1304.7 L349.6,1303.2 L350.6,1301.8 L351.7,1300.4 L352.7,1298.9 L353.7,1297.5 L354.7,1296.1 L355.7,1294.7 L356.7,1293.3 L357.7,1291.9 L358.7,1290.5 L359.7,1289.2 L360.7,1287.8 L361.7,1286.5 L362.7,1285.1 L363.7,1283.8 L364.7,1282.4 L365.7,1281.1 L366.7,1279.8 L367.7,1278.5 L368.7,1277.2 L369.7,1275.9 L370.7,1274.6 L371.7,1273.4 L372.7,1272.1 L373.7,1270.8 L374.7,1269.6 L375.7,1268.3 L376.7,1267.1 L377.7,1265.8 L378.7,1264.6 L379.7,1263.4 L380.7,1262.2 L381.7,1261.0 L382.7,1259.8 L383.8,1258.6 L384.8,1257.4 L385.8,1256.2 L386.8,1255.0 L387.8,1253.9 L388.8,1252.7 L389.8,1251.5 L390.8,1250.4 L391.8,1249.2 L392.8,1248.1 L393.8,1247.0 L394.8,1245.8 L395.8,1244.7 L396.8,1243.6 L397.8,1242.5 L398.8,1241.4 L399.8,1240.3 L400.8,1239.2 L401.8,1238.1 L402.8,1237.0 L403.8,1236.0 L404.8,1234.9 L405.8,1233.8 L406.8,1232.8 L407.8,1231.7 L408.8,1230.7 L409.8,1229.6 L410.8,1228.6 L411.8,1227.6 L412.8,1226.5 L413.8,1225.5 L414.8,1224.5 L415.9,1223.5 L416.9,1222.5 L417.9,1221.5 L418.9,1220.5 L419.9,1219.5 L420.9,1218.5 L421.9,1217.5 L422.9,1216.6 L423.9,1215.6 L424.9,1214.6 L425.9,1213.7 L426.9,1212.7 L427.9,1211.8 L428.9,1210.8 L429.9,1209.9 L430.9,1208.9 L431.9,1208.0 L432.9,1207.1 L433.9,1206.2 L434.9,1205.2 L435.9,1204.3 L436.9,1203.4 L437.9,1202.5 L438.9,1201.6 L439.9,1200.7 L440.9,1199.8 L441.9,1198.9 L442.9,1198.0 L443.9,1197.1 L444.9,1196.3 L445.9,1195.4 L446.9,1194.5 L448.0,1193.7 L449.0,1192.8 L450.0,1191.9 L451.0,1191.1 L452.0,1190.2 L453.0,1189.4 L454.0,1188.6 L455.0,1187.7 L456.0,1186.9 L457.0,1186.1 L458.0,1185.2 L459.0,1184.4 L460.0,1183.6 L461.0,1182.8 L462.0,1182.0 L463.0,1181.2 L464.0,1180.4 L465.0,1179.6 L466.0,1178.8 L467.0,1178.0 L468.0,1177.2 L469.0,1176.4 L470.0,1175.6 L471.0,1174.8 L472.0,1174.0 L473.0,1173.3 L474.0,1172.5 L475.0,1171.7 L476.0,1171.0 L477.0,1170.2 L478.0,1169.5 L479.0,1168.7 L480.1,1168.0 L481.1,1167.2 L482.1,1166.5 L483.1,1165.7 L484.1,1165.0 L485.1,1164.3 L486.1,1163.5 L487.1,1162.8 L488.1,1162.1 L489.1,1161.4 L490.1,1160.6 L491.1,1159.9 L492.1,1159.2 L493.1,1158.5 L494.1,1157.8 L495.1,1157.1 L496.1,1156.4 L497.1,1155.7 L498.1,1155.0 L499.1,1154.3 L500.1,1153.6 L501.1,1152.9 L502.1,1152.3 L503.1,1151.6 L504.1,1150.9 L505.1,1150.2 L506.1,1149.6 L507.1,1148.9 L508.1,1148.2 L510.1,1146.9 L514.7,1144.0 L519.2,1141.1 L523.7,1138.2 L528.3,1135.4 L532.8,1132.7 L537.3,1130.0 L541.9,1127.3 L546.4,1124.7 L551.0,1122.1 L555.5,1119.6 L560.0,1117.1 L564.6,1114.7 L569.1,1112.3 L573.6,1110.0 L578.2,1107.6 L582.7,1105.4 L587.2,1103.1 L591.8,1100.9 L596.3,1098.7 L600.8,1096.6 L605.4,1094.5 L609.9,1092.4 L614.4,1090.3 L619.0,1088.3 L623.5,1086.3 L628.0,1084.4 L632.6,1082.5 L637.1,1080.6 L641.6,1078.7 L646.2,1076.9 L650.7,1075.0 L655.2,1073.2 L659.8,1071.5 L664.3,1069.7 L668.9,1068.0 L673.4,1066.3 L677.9,1064.7 L682.5,1063.0 L687.0,1061.4 L691.5,1059.8 L696.1,1058.2 L700.6,1056.6 L705.1,1055.1 L709.7,1053.6 L714.2,1052.1 L718.7,1050.6 L723.3,1049.1 L727.8,1047.7 L732.3,1046.3 L736.9,1044.9 L741.4,1043.5 L745.9,1042.1 L750.5,1040.7 L755.0,1039.4 L759.5,1038.1 L764.1,1036.8 L768.6,1035.5 L773.2,1034.2 L777.7,1032.9 L782.2,1031.7 L786.8,1030.5 L791.3,1029.3 L795.8,1028.1 L800.4,1026.9 L804.9,1025.7 L809.4,1024.5 L814.0,1023.4 L818.5,1022.3 L823.0,1021.1 L827.6,1020.0 L832.1,1018.9 L836.6,1017.8 L841.2,1016.8 L845.7,1015.7 L850.2,1014.7 L854.8,1013.6 L859.3,1012.6 L863.8,1011.6 L868.4,1010.6 L872.9,1009.6 L877.4,1008.6 L882.0,1007.6 L886.5,1006.7 L891.1,1005.7 L895.6,1004.8 L900.1,1003.8 L904.7,1002.9 L909.2,1002.0 L913.7,1001.1 L918.3,1000.2 L922.8,999.3 L927.3,998.4 L931.9,997.5 L936.4,996.7 L940.9,995.8 L945.5,995.0 L950.0,994.2 L954.5,993.3 L959.1,992.5 L963.6,991.7 L968.1,990.9 L972.7,990.1 L977.2,989.3 L981.7,988.5 L986.3,987.7 L990.8,987.0 L995.3,986.2 L999.9,985.5 L1004.4,984.7 L1009.0,984.0 L1013.5,983.2 L1018.0,982.5 L1022.6,981.8 L1027.1,981.1 L1031.6,980.4 L1036.2,979.7 L1040.7,979.0 L1045.2,978.3 L1049.8,977.6 L1054.3,976.9 L1058.8,976.3 L1063.4,975.6 L1067.9,974.9 L1072.4,974.3 L1077.0,973.6 L1081.5,973.0 L1086.0,972.4 L1090.6,971.7 L1095.1,971.1 L1099.6,970.5 L1104.2,969.9 L1108.7,969.3 L1113.2,968.6 L1117.8,968.0 L1122.3,967.4 L1126.9,966.9 L1131.4,966.3 L1135.9,965.7 L1140.5,965.1 L1145.0,964.5 L1149.5,964.0 L1154.1,963.4 L1158.6,962.9 L1163.1,962.3 L1167.7,961.8 L1172.2,961.2 L1176.7,960.7 L1181.3,960.1 L1185.8,959.6 L1190.3,959.1 L1194.9,958.5 L1199.4,958.0 L1203.9,957.5 L1208.5,957.0 L1213.0,956.5 L1217.5,956.0 L1222.1,955.5 L1226.6,955.0 L1231.1,954.5 L1235.7,954.0 L1240.2,953.5 L1244.8,953.0 L1249.3,952.6 L1253.8,952.1 L1258.4,951.6 L1262.9,951.1 L1267.4,950.7 L1272.0,950.2 L1276.5,949.8 L1281.0,949.3 L1285.6,948.8 L1290.1,948.4 L1294.6,948.0 L1299.2,947.5 L1303.7,947.1 L1308.2,946.6 L1312.8,946.2 L1317.3,945.8 L1321.8,945.3 L1326.4,944.9 L1330.9,944.5 L1335.4,944.1 L1340.0,943.7 L1344.5,943.3 L1349.1,942.8 L1353.6,942.4 L1358.1,942.0 L1362.7,941.6 L1367.2,941.2 L1371.7,940.8 L1376.3,940.4 L1380.8,940.0 L1385.3,939.7 L1389.9,939.3 L1394.4,938.9 L1398.9,938.5 L1403.5,938.1 L1408.0,937.8 L1412.5,937.4 L1417.1,937.0 L1421.6,936.6 L1426.1,936.3 L1430.7,935.9 L1435.2,935.6 L1439.7,935.2 L1444.3,934.8 L1448.8,934.5 L1453.3,934.1 L1457.9,933.8 L1462.4,933.4 L1467.0,933.1 L1471.5,932.7 L1476.0,932.4 L1480.6,932.1 L1485.1,931.7 L1489.6,931.4 L1494.2,931.1 L1498.7,930.7 L1503.2,930.4 L1507.8,930.1 L1512.3,929.7 L1516.8,929.4 L1521.4,929.1 L1525.9,928.8 L1530.4,928.5 L1535.0,928.1 L1539.5,927.8 L1544.0,927.5 L1548.6,927.2 L1553.1,926.9 L1557.6,926.6 L1562.2,926.3 L1566.7,926.0 L1571.2,925.7 L1575.8,925.4 L1580.3,925.1 L1584.9,924.8 L1589.4,924.5 L1593.9,924.2 L1598.5,923.9 L1603.0,923.6 L1607.5,923.3 L1612.1,923.1 L1616.6,922.8 L1621.1,922.5 L1625.7,922.2 L1630.2,921.9 L1634.7,921.7 L1639.3,921.4 L1643.8,921.1 L1648.3,920.8 L1652.9,920.6 L1657.4,920.3 L1661.9,920.0 L1666.5,919.8 L1671.0,919.5 L1675.5,919.2 L1680.1,919.0 L1684.6,918.7 L1689.1,918.4 L1693.7,918.2 L1698.2,917.9 L1702.8,917.7 L1707.3,917.4 L1711.8,917.2 L1716.4,916.9 L1720.9,916.7 L1725.4,916.4 L1730.0,916.2 L1734.5,915.9 L1739.0,915.7 L1743.6,915.4 L1748.1,915.2 L1752.6,914.9 L1757.2,914.7 L1761.7,914.5 L1766.2,914.2 L1770.8,914.0 L1775.3,913.8 L1779.8,913.5 L1784.4,913.3 L1788.9,913.1 L1793.4,912.8 L1798.0,912.6 L1802.5,912.4 L1807.0,912.1 L1811.6,911.9 L1816.1,911.7 L1820.7,911.5 L1825.2,911.3 L1829.7,911.0 L1834.3,910.8 L1838.8,910.6 L1843.3,910.4 L1847.9,910.2 L1852.4,909.9 L1856.9,909.7 L1861.5,909.5 L1866.0,909.3"/>
</g>
<g fill="#000">
<rect x="1631.2" y="457.7" width="38.6" height="38.6"/>
<rect x="1184.1" y="397.1" width="38.6" height="38.6"/>
<rect x="624.2" y="601.1" width="38.6" height="38.6"/>
<rect x="512.1" y="652.9" width="38.6" height="38.6"/>
<rect x="468.4" y="717.7" width="38.6" height="38.6"/>
<rect x="382.2" y="860.7" width="38.6" height="38.6"/>
<rect x="334.1" y="994.9" width="38.6" height="38.6"/>
<rect x="326.7" y="1064.2" width="38.6" height="38.6"/>
<rect x="311.7" y="1141.7" width="38.6" height="38.6"/>
<path d="M1673.7,323.1 L1673.7,327.4 L1669.3,327.4 L1669.3,336.0 L1665.0,336.0 L1665.0,344.6 L1660.8,344.6 L1660.8,348.9 L1656.5,348.9 L1656.5,357.5 L1652.2,357.5 L1652.2,361.8 L1647.8,361.8 L1647.8,357.5 L1643.5,357.5 L1643.5,348.9 L1639.2,348.9 L1639.2,344.6 L1635.0,344.6 L1635.0,336.0 L1630.7,336.0 L1630.7,327.4 L1626.3,327.4 L1626.3,323.1ZM1227.1,414.7 L1227.1,419.0 L1222.8,419.0 L1222.8,427.6 L1218.5,427.6 L1218.5,436.2 L1214.2,436.2 L1214.2,440.5 L1209.9,440.5 L1209.9,449.1 L1205.6,449.1 L1205.6,453.4 L1201.2,453.4 L1201.2,449.1 L1197.0,449.1 L1197.0,440.5 L1192.7,440.5 L1192.7,436.2 L1188.4,436.2 L1188.4,427.6 L1184.1,427.6 L1184.1,419.0 L1179.8,419.0 L1179.8,414.7ZM780.6,483.7 L780.6,488.0 L776.4,488.0 L776.4,496.6 L772.0,496.6 L772.0,505.2 L767.8,505.2 L767.8,509.5 L763.5,509.5 L763.5,518.1 L759.1,518.1 L759.1,522.4 L754.9,522.4 L754.9,518.1 L750.5,518.1 L750.5,509.5 L746.2,509.5 L746.2,505.2 L742.0,505.2 L742.0,496.6 L737.6,496.6 L737.6,488.0 L733.4,488.0 L733.4,483.7ZM667.6,561.5 L667.6,565.8 L663.4,565.8 L663.4,574.4 L659.0,574.4 L659.0,583.0 L654.8,583.0 L654.8,587.3 L650.5,587.3 L650.5,595.9 L646.1,595.9 L646.1,600.2 L641.9,600.2 L641.9,595.9 L637.5,595.9 L637.5,587.3 L633.2,587.3 L633.2,583.0 L629.0,583.0 L629.0,574.4 L624.6,574.4 L624.6,565.8 L620.4,565.8 L620.4,561.5ZM554.9,596.5 L554.9,600.8 L550.6,600.8 L550.6,609.4 L546.2,609.4 L546.2,618.0 L542.0,618.0 L542.0,622.3 L537.7,622.3 L537.7,630.9 L533.4,630.9 L533.4,635.2 L529.1,635.2 L529.1,630.9 L524.8,630.9 L524.8,622.3 L520.5,622.3 L520.5,618.0 L516.2,618.0 L516.2,609.4 L511.9,609.4 L511.9,600.8 L507.6,600.8 L507.6,596.5ZM511.3,739.5 L511.3,743.8 L507.1,743.8 L507.1,752.4 L502.8,752.4 L502.8,761.0 L498.4,761.0 L498.4,765.3 L494.1,765.3 L494.1,773.9 L489.8,773.9 L489.8,778.2 L485.6,778.2 L485.6,773.9 L481.2,773.9 L481.2,765.3 L476.9,765.3 L476.9,761.0 L472.6,761.0 L472.6,752.4 L468.3,752.4 L468.3,743.8 L464.1,743.8 L464.1,739.5ZM425.1,882.1 L425.1,886.4 L420.9,886.4 L420.9,895.0 L416.6,895.0 L416.6,903.6 L412.2,903.6 L412.2,907.9 L407.9,907.9 L407.9,916.5 L403.6,916.5 L403.6,920.8 L399.4,920.8 L399.4,916.5 L395.1,916.5 L395.1,907.9 L390.8,907.9 L390.8,903.6 L386.4,903.6 L386.4,895.0 L382.1,895.0 L382.1,886.4 L377.9,886.4 L377.9,882.1ZM367.1,1104.7 L367.1,1109.0 L362.9,1109.0 L362.9,1117.6 L358.6,1117.6 L358.6,1126.2 L354.2,1126.2 L354.2,1130.5 L349.9,1130.5 L349.9,1139.1 L345.6,1139.1 L345.6,1143.4 L341.4,1143.4 L341.4,1139.1 L337.1,1139.1 L337.1,1130.5 L332.8,1130.5 L332.8,1126.2 L328.4,1126.2 L328.4,1117.6 L324.1,1117.6 L324.1,1109.0 L319.9,1109.0 L319.9,1104.7ZM356.1,1189.2 L356.1,1193.5 L351.9,1193.5 L351.9,1202.1 L347.6,1202.1 L347.6,1210.7 L343.2,1210.7 L343.2,1215.0 L338.9,1215.0 L338.9,1223.6 L334.6,1223.6 L334.6,1227.9 L330.4,1227.9 L330.4,1223.6 L326.1,1223.6 L326.1,1215.0 L321.8,1215.0 L321.8,1210.7 L317.4,1210.7 L317.4,1202.1 L313.1,1202.1 L313.1,1193.5 L308.9,1193.5 L308.9,1189.2Z"/>
<circle cx="310" cy="1374.3" r="23"/>
</g>
<g fill="none" stroke="#000" stroke-width="4">
<rect x="1633.2" y="494.5" width="34.6" height="34.6"/>
<rect x="1186.2" y="576.7" width="34.6" height="34.6"/>
<rect x="739.1" y="667.7" width="34.6" height="34.6"/>
<rect x="626.0" y="732.4" width="34.6" height="34.6"/>
<rect x="514.0" y="784.7" width="34.6" height="34.6"/>
<rect x="470.4" y="858.4" width="34.6" height="34.6"/>
<rect x="383.7" y="953.7" width="34.6" height="34.6"/>
<rect x="335.7" y="1113.2" width="34.6" height="34.6"/>
<rect x="326.7" y="1151.7" width="34.6" height="34.6"/>
<rect x="314.2" y="1218.2" width="34.6" height="34.6"/>
<circle cx="1650" cy="918.7" r="21.5"/>
<circle cx="1202.6" cy="953.8" r="21.5"/>
<circle cx="757.1" cy="1040.2" r="21.5"/>
<circle cx="644" cy="1075.1" r="21.5"/>
<circle cx="529.6" cy="1161.2" r="21.5"/>
<circle cx="487.2" cy="1178.3" r="21.5"/>
<circle cx="401" cy="1231" r="21.5"/>
<circle cx="355.3" cy="1278.5" r="21.5"/>
<circle cx="349.5" cy="1291" r="21.5"/>
<circle cx="336" cy="1328" r="21.5"/>
</g>
<g font-family="Liberation Sans, Arial, sans-serif" font-weight="bold" font-size="69" fill="#000">
<g transform="translate(267,1388.0) scale(0.9,1.07)"><text y="0" font-family="Liberation Sans, Arial, Helvetica, sans-serif" font-weight="bold" font-size="69"><tspan x="-39.5">0</tspan></text></g>
<g transform="translate(267,1172.0) scale(0.9,1.07)"><text y="0" font-family="Liberation Sans, Arial, Helvetica, sans-serif" font-weight="bold" font-size="69"><tspan x="-100.4">0</tspan><tspan x="-60.4">.</tspan><tspan x="-39.5">2</tspan></text></g>
<g transform="translate(267,954.8) scale(0.9,1.07)"><text y="0" font-family="Liberation Sans, Arial, Helvetica, sans-serif" font-weight="bold" font-size="69"><tspan x="-100.4">0</tspan><tspan x="-60.4">.</tspan><tspan x="-39.5">4</tspan></text></g>
<g transform="translate(267,738.1) scale(0.9,1.07)"><text y="0" font-family="Liberation Sans, Arial, Helvetica, sans-serif" font-weight="bold" font-size="69"><tspan x="-100.4">0</tspan><tspan x="-60.4">.</tspan><tspan x="-39.5">6</tspan></text></g>
<g transform="translate(267,521.8) scale(0.9,1.07)"><text y="0" font-family="Liberation Sans, Arial, Helvetica, sans-serif" font-weight="bold" font-size="69"><tspan x="-100.4">0</tspan><tspan x="-60.4">.</tspan><tspan x="-39.5">8</tspan></text></g>
<g transform="translate(270,309.9) scale(0.9,1.07)"><text y="0" font-family="Liberation Sans, Arial, Helvetica, sans-serif" font-weight="bold" font-size="69"><tspan x="-39.7">1</tspan></text><g fill="#fff"><rect x="-36.3" y="-8.2" width="12.6" height="9.4"/><rect x="-14.1" y="-8.2" width="11.7" height="9.4"/></g></g>
<g transform="translate(267,89.1) scale(0.9,1.07)"><text y="0" font-family="Liberation Sans, Arial, Helvetica, sans-serif" font-weight="bold" font-size="69"><tspan x="-100.7">1</tspan><tspan x="-60.4">.</tspan><tspan x="-39.5">2</tspan></text><g fill="#fff"><rect x="-97.2" y="-8.2" width="12.6" height="9.4"/><rect x="-75.1" y="-8.2" width="11.7" height="9.4"/></g></g>
<g transform="translate(308.5,1461.3) scale(0.9,1.07)"><text y="0" font-family="Liberation Sans, Arial, Helvetica, sans-serif" font-weight="bold" font-size="69"><tspan x="-19.2">0</tspan></text></g>
<g transform="translate(529.3,1461.3) scale(0.9,1.07)"><text y="0" font-family="Liberation Sans, Arial, Helvetica, sans-serif" font-weight="bold" font-size="69"><tspan x="-61.8">5</tspan><tspan x="-19.2">0</tspan><tspan x="23.4">0</tspan></text></g>
<g transform="translate(754.6,1461.3) scale(0.9,1.07)"><text y="0" font-family="Liberation Sans, Arial, Helvetica, sans-serif" font-weight="bold" font-size="69"><tspan x="-83.6">1</tspan><tspan x="-40.5">0</tspan><tspan x="2.1">0</tspan><tspan x="44.8">0</tspan></text><g fill="#fff"><rect x="-80.1" y="-8.2" width="12.6" height="9.4"/><rect x="-58.0" y="-8.2" width="11.7" height="9.4"/></g></g>
<g transform="translate(975.8,1461.3) scale(0.9,1.07)"><text y="0" font-family="Liberation Sans, Arial, Helvetica, sans-serif" font-weight="bold" font-size="69"><tspan x="-83.6">1</tspan><tspan x="-40.5">5</tspan><tspan x="2.1">0</tspan><tspan x="44.8">0</tspan></text><g fill="#fff"><rect x="-80.1" y="-8.2" width="12.6" height="9.4"/><rect x="-58.0" y="-8.2" width="11.7" height="9.4"/></g></g>
<g transform="translate(1201.5,1461.3) scale(0.9,1.07)"><text y="0" font-family="Liberation Sans, Arial, Helvetica, sans-serif" font-weight="bold" font-size="69"><tspan x="-83.2">2</tspan><tspan x="-40.5">0</tspan><tspan x="2.1">0</tspan><tspan x="44.8">0</tspan></text></g>
<g transform="translate(1422.3,1461.3) scale(0.9,1.07)"><text y="0" font-family="Liberation Sans, Arial, Helvetica, sans-serif" font-weight="bold" font-size="69"><tspan x="-83.2">2</tspan><tspan x="-40.5">5</tspan><tspan x="2.1">0</tspan><tspan x="44.8">0</tspan></text></g>
<g transform="translate(1648.1,1461.3) scale(0.9,1.07)"><text y="0" font-family="Liberation Sans, Arial, Helvetica, sans-serif" font-weight="bold" font-size="69"><tspan x="-83.2">3</tspan><tspan x="-40.5">0</tspan><tspan x="2.1">0</tspan><tspan x="44.8">0</tspan></text></g>
<g transform="translate(1869.5,1461.3) scale(0.9,1.07)"><text y="0" font-family="Liberation Sans, Arial, Helvetica, sans-serif" font-weight="bold" font-size="69"><tspan x="-83.2">3</tspan><tspan x="-40.5">5</tspan><tspan x="2.1">0</tspan><tspan x="44.8">0</tspan></text></g>
<g transform="translate(1090.5,1566) scale(1,1.07)"><text y="0" font-family="Liberation Sans, Arial, Helvetica, sans-serif" font-weight="bold" font-size="69"><tspan x="-179.7">[</tspan><tspan x="-157.0">N</tspan><tspan x="-107.1">A</tspan><tspan x="-58.7">M</tspan><tspan x="-3.3">]</tspan><tspan x="19.7"> </tspan><tspan x="34.8" font-weight="normal">(</tspan><tspan x="65.3" font-weight="normal">&#956;</tspan><tspan x="101.6">M</tspan><tspan x="157.8" font-weight="normal">)</tspan></text></g>
<g transform="translate(78,1115.3) rotate(-90) scale(1,1.07)"><text y="0" font-family="Liberation Sans, Arial, Helvetica, sans-serif" font-weight="bold" font-size="69" stroke="#fff" stroke-width="1.4"><tspan x="-4.4">B</tspan><tspan x="46.8">a</tspan><tspan x="86.4">s</tspan><tspan x="125.4">e</tspan><tspan x="163.8"> </tspan><tspan x="181.9">e</tspan><tspan x="220.0">x</tspan><tspan x="259.3">c</tspan><tspan x="298.8">h</tspan><tspan x="340.6">a</tspan><tspan x="381.0">n</tspan><tspan x="425.1">g</tspan><tspan x="467.5">e</tspan><tspan x="505.9"> </tspan><tspan x="523.1">r</tspan><tspan x="549.1">a</tspan><tspan x="589.2">t</tspan><tspan x="610.6">e</tspan><tspan x="649.0"> </tspan><tspan x="664.0" font-weight="normal">(</tspan><tspan x="688.3">1</tspan><tspan x="725.7" font-weight="normal">/</tspan><tspan x="745.0">s</tspan><tspan x="784.9" font-weight="normal">)</tspan></text><g fill="#fff"><rect x="691.7" y="-8.2" width="12.6" height="9.4"/><rect x="713.9" y="-8.2" width="11.7" height="9.4"/></g></g>
</svg></body></html>
